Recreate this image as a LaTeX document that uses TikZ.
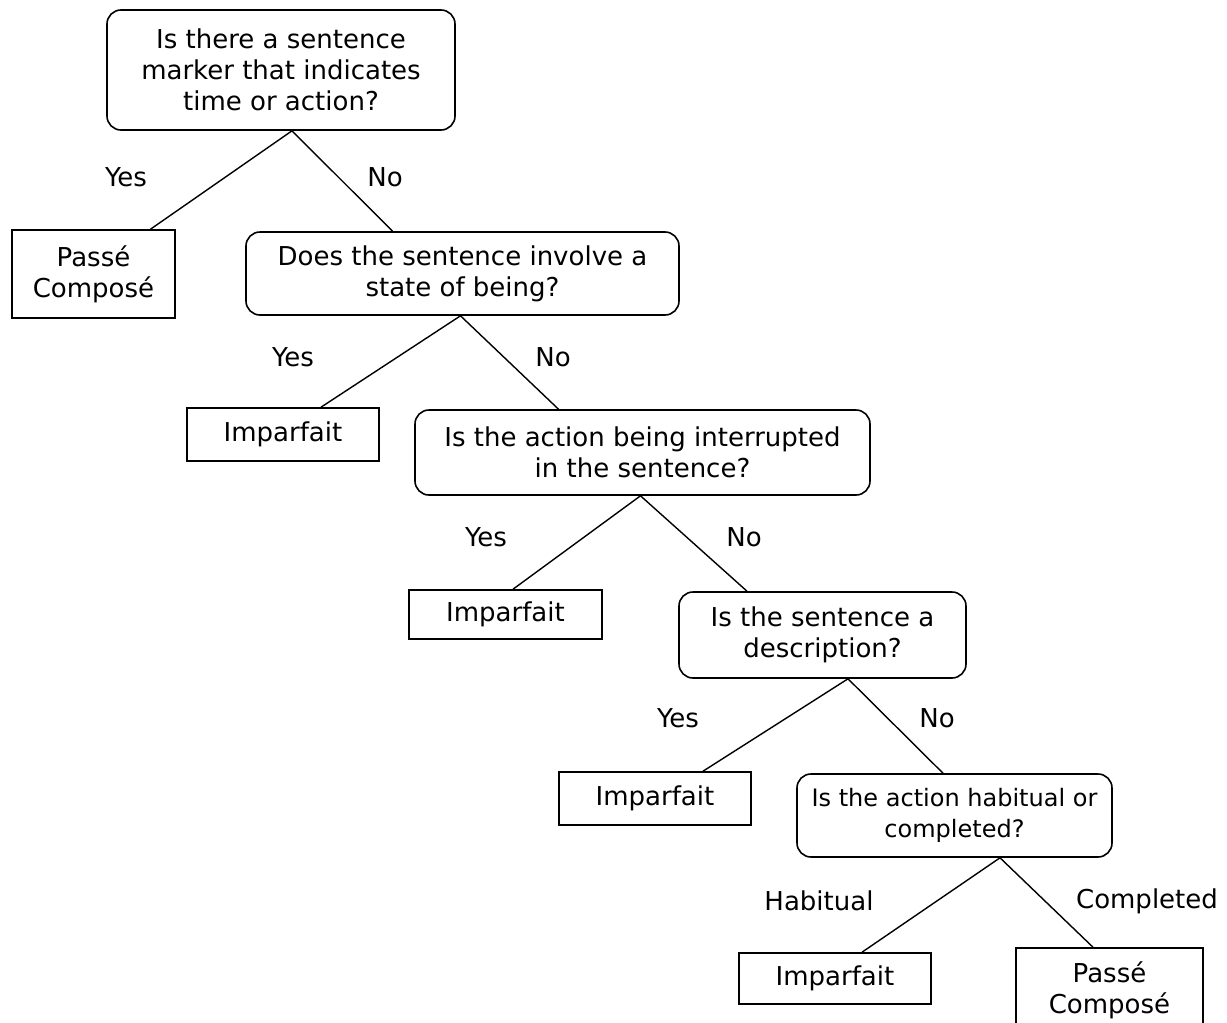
\documentclass[tikz,border=0pt]{standalone}
\usepackage{fontspec}
\setmainfont{DejaVu Sans}
\newcommand{\treefont}{\fontsize{26}{31}\selectfont}
\tikzset{
  quest/.style={draw, rounded corners=14pt, line width=1.6pt, align=center,
                inner sep=0pt, font=\treefont},
  answer/.style={draw, line width=1.6pt, align=center, inner sep=0pt, font=\treefont},
  branch/.style={line width=1.4pt},
  choice/.style={inner sep=0pt, font=\treefont},
}

\begin{document}
\begin{tikzpicture}[x=1pt, y=-1pt]
  \useasboundingbox (0,0) rectangle (1227,1023);

  % questions
  \node[quest, minimum width=348pt, minimum height=120pt] (q1) at (281,70)
    {Is there a sentence\\marker that indicates\\time or action?};
  \node[quest, minimum width=433pt, minimum height=83pt] (q2) at (462.5,273.5)
    {Does the sentence involve a\\state of being?};
  \node[quest, minimum width=455pt, minimum height=85pt] (q3) at (642.5,452.5)
    {Is the action being interrupted\\in the sentence?};
  \node[quest, minimum width=287pt, minimum height=86pt] (q4) at (822.5,635)
    {Is the sentence a\\description?};
  \node[quest, minimum width=315pt, minimum height=83pt,
        font=\fontsize{24}{31}\selectfont] (q5) at (954.5,815.5)
    {Is the action habitual or\\completed?};

  % answers
  \node[answer, minimum width=163pt, minimum height=88pt] (pc1) at (93.5,274)
    {Passé\\Composé};
  \node[answer, minimum width=192pt, minimum height=53pt] (imp1) at (283,434.5) {Imparfait};
  \node[answer, minimum width=193pt, minimum height=49pt] (imp2) at (505.5,614.5) {Imparfait};
  \node[answer, minimum width=192pt, minimum height=53pt] (imp3) at (655,798.5) {Imparfait};
  \node[answer, minimum width=192pt, minimum height=51pt] (imp4) at (835,978.5) {Imparfait};
  \node[answer, minimum width=187pt, minimum height=84pt] (pc2) at (1109.5,990)
    {Passé\\Composé};

  % branches
  \draw[branch] ([xshift=11pt]q1.south) -- ([xshift=57pt]pc1.north);
  \draw[branch] ([xshift=11pt]q1.south) -- ([xshift=-70pt]q2.north);
  \draw[branch] ([xshift=-2pt]q2.south) -- ([xshift=38pt]imp1.north);
  \draw[branch] ([xshift=-2pt]q2.south) -- ([xshift=-84pt]q3.north);
  \draw[branch] ([xshift=-2pt]q3.south) -- ([xshift=7.5pt]imp2.north);
  \draw[branch] ([xshift=-2pt]q3.south) -- ([xshift=-75.5pt]q4.north);
  \draw[branch] ([xshift=25.5pt]q4.south) -- ([xshift=48pt]imp3.north);
  \draw[branch] ([xshift=25.5pt]q4.south) -- ([xshift=-11.5pt]q5.north);
  \draw[branch] ([xshift=45.5pt]q5.south) -- ([xshift=27pt]imp4.north);
  \draw[branch] ([xshift=45.5pt]q5.south) -- ([xshift=-16.5pt]pc2.north);

  % labels
  \node[choice] (y1) at (126,177) {Yes};
  \node[choice] (n1) at (385,177) {No};
  \node[choice] (y2) at (293,357) {Yes};
  \node[choice] (n2) at (553,357) {No};
  \node[choice] (y3) at (486,537) {Yes};
  \node[choice] (n3) at (744,537) {No};
  \node[choice] (y4) at (678,718) {Yes};
  \node[choice] (n4) at (937,718) {No};
  \node[choice] (hab) at (819,901) {Habitual};
  \node[choice] (comp) at (1147,901) {Completed};
\end{tikzpicture}
\end{document}
